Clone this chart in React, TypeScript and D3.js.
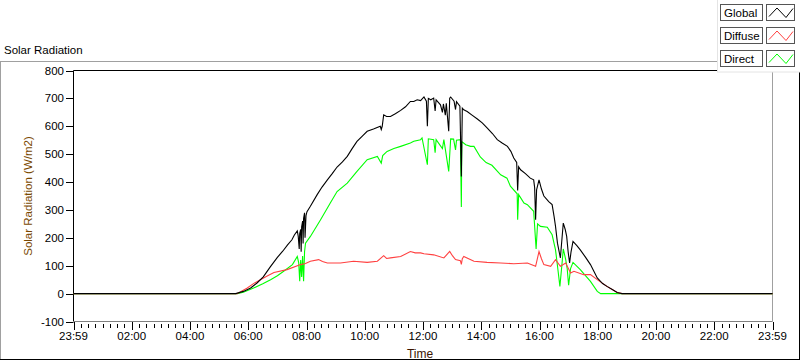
import React from "react";
import * as d3 from "d3";

// ---------- data (minutes after 23:59 start, W/m2) ----------
const globalT = [0, 334, 350, 365, 378, 391, 405, 420, 431, 441, 450, 455, 461, 463, 465, 466, 468, 469, 470, 472, 473, 474, 476, 477, 479, 481, 488, 502, 512, 523, 533, 543, 554, 564, 574, 584, 595, 605, 618, 632, 634, 636, 639, 645, 653, 663, 674, 684, 694, 701, 708, 715, 722, 727, 729, 731, 736, 742, 745, 747, 752, 756, 760, 762, 766, 768, 773, 775, 777, 784, 787, 789, 796, 799, 801, 804, 811, 821, 832, 842, 852, 863, 873, 883, 894, 901, 907, 913, 915, 917, 921, 931, 941, 948, 950, 952, 954, 959, 964, 969, 979, 986, 990, 993, 997, 1003, 1009, 1013, 1016, 1019, 1022, 1025, 1029, 1037, 1044, 1055, 1065, 1072, 1079, 1090, 1099, 1110, 1120, 1130, 1440];
const globalV = [0, 0, 8, 20, 38, 60, 95, 130, 152, 175, 193, 210, 225, 205, 160, 215, 230, 150, 240, 260, 180, 270, 290, 200, 280, 294, 313, 355, 382, 408, 430, 454, 472, 492, 520, 546, 565, 582, 590, 600, 588, 600, 641, 635, 635, 645, 657, 670, 689, 689, 695, 692, 705, 690, 600, 700, 695, 701, 655, 695, 685, 677, 650, 680, 640, 682, 582, 701, 705, 690, 660, 688, 672, 420, 665, 659, 653, 640, 626, 612, 594, 574, 552, 540, 528, 510, 486, 470, 370, 455, 444, 430, 414, 408, 380, 265, 372, 408, 375, 350, 330, 319, 277, 241, 181, 128, 253, 230, 205, 150, 110, 150, 187, 172, 157, 130, 104, 80, 56, 36, 26, 15, 4, 0, 0];

const directT = [0, 337, 350, 371, 390, 406, 420, 433, 451, 461, 464, 466, 468, 470, 472, 474, 476, 478, 488, 509, 529, 543, 564, 584, 605, 626, 634, 637, 646, 660, 674, 694, 701, 715, 718, 729, 731, 742, 745, 747, 760, 763, 773, 777, 783, 787, 789, 797, 799, 800, 808, 818, 825, 838, 850, 862, 880, 893, 900, 914, 915, 917, 928, 935, 948, 953, 956, 962, 976, 986, 993, 997, 1002, 1006, 1009, 1014, 1017, 1020, 1024, 1029, 1044, 1065, 1079, 1086, 1440];
const directV = [0, 0, 5, 20, 35, 50, 64, 80, 104, 133, 110, 44, 120, 60, 135, 44, 150, 181, 205, 265, 325, 366, 396, 438, 480, 492, 468, 495, 510, 520, 528, 540, 546, 552, 558, 462, 555, 552, 505, 552, 520, 552, 438, 555, 554, 515, 550, 552, 311, 545, 534, 528, 528, 490, 470, 460, 426, 414, 385, 358, 265, 355, 325, 319, 295, 160, 250, 241, 238, 211, 157, 100, 26, 100, 160, 122, 90, 30, 90, 112, 86, 44, 8, 0, 0];

const diffuseT = [0, 337, 358, 370, 385, 400, 413, 440, 468, 478, 488, 505, 513, 523, 550, 577, 605, 626, 639, 645, 653, 674, 694, 704, 715, 722, 742, 763, 775, 781, 787, 797, 799, 801, 804, 825, 852, 880, 907, 935, 952, 959, 964, 969, 983, 993, 1003, 1014, 1024, 1031, 1051, 1065, 1079, 1099, 1120, 1130, 1440];
const diffuseV = [0, 0, 20, 35, 50, 64, 76, 86, 104, 108, 116, 122, 115, 110, 110, 116, 112, 116, 136, 126, 128, 133, 151, 146, 146, 143, 139, 128, 151, 135, 122, 118, 105, 125, 133, 116, 112, 110, 107, 110, 98, 151, 125, 104, 98, 122, 98, 110, 74, 80, 68, 68, 50, 26, 4, 0, 0];

const yTicks = [800, 700, 600, 500, 400, 300, 200, 100, 0, -100];
const xTickMinutes = [0, 120, 240, 360, 480, 600, 720, 840, 960, 1080, 1200, 1320, 1440];
const xTickLabels = ["23:59", "02:00", "04:00", "06:00", "08:00", "10:00", "12:00", "14:00", "16:00", "18:00", "20:00", "22:00", "23:59"];
const legendNames = ["Global", "Diffuse", "Direct"];
const legendColors = ["#000000", "#ff4040", "#00ff00"];

const FONT = "'Liberation Sans', Arial, sans-serif";

export default function App() {
  const left = 73.5, right = 772.5, top = 70.5, bottom = 321.5;
  const x = d3.scaleLinear().domain([0, 1440]).range([left, right]);
  const y = d3.scaleLinear().domain([-100, 800]).range([bottom, top]);

  const mk = (ts: number[], vs: number[]) =>
    d3.line<number>().x((_, i) => x(ts[i])).y((v) => y(v))(vs) || "";

  const series = [
    { d: mk(directT, directV), c: legendColors[2] },
    { d: mk(diffuseT, diffuseV), c: legendColors[1] },
    { d: mk(globalT, globalV), c: legendColors[0] },
  ];

  const minor = d3.range(0, 1441, 15);

  return (
    <svg
      width={800}
      height={361}
      style={{ position: "fixed", left: 0, top: 0, background: "#ffffff" }}
      fontFamily={FONT}
    >
      {/* outer panel */}
      <line x1={0} x2={717} y1={61.5} y2={61.5} stroke="#a0a0a0" />
      <line x1={0.5} x2={0.5} y1={61} y2={360} stroke="#a0a0a0" />
      <line x1={0} x2={800} y1={359.5} y2={359.5} stroke="#000" />
      <line x1={799.5} x2={799.5} y1={72} y2={360} stroke="#000" />
      <text x={4} y={54} fontSize={11.5} fill="#000">Solar Radiation</text>

      {/* plot frame */}
      <line x1={left} x2={right} y1={top} y2={top} stroke="#000" />
      <line x1={left} x2={left} y1={top} y2={bottom} stroke="#000" />
      <line x1={right} x2={right} y1={top} y2={bottom} stroke="#a0a0a0" />
      <line x1={left} x2={right} y1={bottom} y2={bottom} stroke="#808080" />

      {/* y axis */}
      {yTicks.map((t) => (
        <g key={t}>
          <line x1={66} x2={left} y1={Math.round(y(t)) + 0.5} y2={Math.round(y(t)) + 0.5} stroke="#000" />
          <text x={64} y={y(t) + 4} fontSize={11.5} textAnchor="end" fill="#000">{t}</text>
        </g>
      ))}
      <text
        transform={`translate(32,196) rotate(-90)`}
        textAnchor="middle"
        fontSize={11.5}
        fill="#7a4800"
      >
        Solar Radiation (W/m2)
      </text>

      {/* x axis */}
      {minor.map((m) => (
        <line key={m} x1={Math.round(x(m)) + 0.5} x2={Math.round(x(m)) + 0.5} y1={324} y2={328} stroke="#000" />
      ))}
      {xTickMinutes.map((m, i) => (
        <g key={m}>
          <line x1={Math.round(x(m)) + 0.5} x2={Math.round(x(m)) + 0.5} y1={322} y2={330} stroke="#000" />
          <text x={x(m)} y={340} fontSize={11.5} textAnchor="middle" fill="#000">{xTickLabels[i]}</text>
        </g>
      ))}
      <text x={420} y={358} fontSize={12} textAnchor="middle" fill="#3a1500">Time</text>

      {/* data */}
      <g>
        {series.map((s, i) => (
          <path key={i} d={s.d} fill="none" stroke={s.c} strokeWidth={1.1} />
        ))}
      </g>

      {/* legend */}
      <rect x={717.5} y={-1} width={90} height={73} fill="#ffffff" stroke="#e4e4e4" />
      {legendNames.map((n, i) => {
        const ry = 4.5 + i * 23;
        return (
          <g key={n}>
            <rect x={720.5} y={ry} width={42} height={16} fill="#fff" stroke="#555" />
            <text x={724} y={ry + 12.5} fontSize={11.5} fill="#000">{n}</text>
            <rect x={766.5} y={ry} width={28} height={16} fill="#fff" stroke="#555" />
            <polyline
              points={`769,${ry + 12} 777,${ry + 3.5} 786,${ry + 13} 793,${ry + 4}`}
              fill="none"
              stroke={legendColors[i]}
            />
          </g>
        );
      })}
    </svg>
  );
}
